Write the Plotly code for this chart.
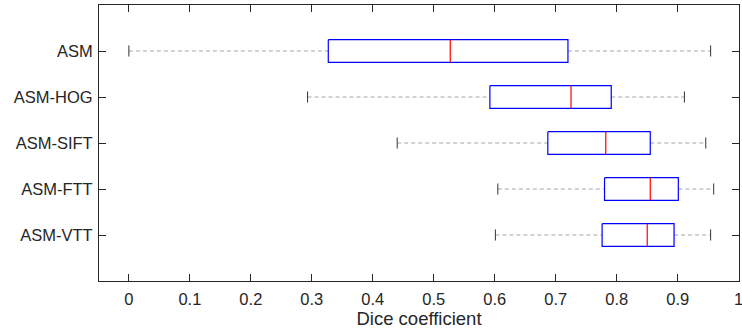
import plotly.graph_objects as go

methods = ["ASM", "ASM-HOG", "ASM-SIFT", "ASM-FTT", "ASM-VTT"]
lower_whisker = [0.000, 0.293, 0.440, 0.605, 0.601]
q1 = [0.327, 0.592, 0.687, 0.780, 0.776]
median = [0.527, 0.725, 0.782, 0.855, 0.850]
q3 = [0.720, 0.791, 0.855, 0.901, 0.894]
upper_whisker = [0.954, 0.911, 0.946, 0.959, 0.954]
x_ticks = [0, 0.1, 0.2, 0.3, 0.4, 0.5, 0.6, 0.7, 0.8, 0.9, 1]
x_tick_labels = ["0", "0.1", "0.2", "0.3", "0.4", "0.5", "0.6", "0.7", "0.8", "0.9", "1"]

BOX_HALF = 0.247
CAP_HALF = 0.12

wx, wy, cx, cy, bx, by, mx, my = [], [], [], [], [], [], [], []
for i, m in enumerate(methods):
    yc = i + 1
    wx += [lower_whisker[i], q1[i], None, q3[i], upper_whisker[i], None]
    wy += [yc, yc, None, yc, yc, None]
    cx += [lower_whisker[i], lower_whisker[i], None, upper_whisker[i], upper_whisker[i], None]
    cy += [yc - CAP_HALF, yc + CAP_HALF, None, yc - CAP_HALF, yc + CAP_HALF, None]
    bx += [q1[i], q3[i], q3[i], q1[i], q1[i], None]
    by += [yc - BOX_HALF, yc - BOX_HALF, yc + BOX_HALF, yc + BOX_HALF, yc - BOX_HALF, None]
    mx += [median[i], median[i], None]
    my += [yc - BOX_HALF, yc + BOX_HALF, None]

fig = go.Figure()
fig.add_trace(go.Scatter(x=wx, y=wy, mode="lines", hoverinfo="skip",
                         line=dict(color="#a6a6a6", width=1, dash="4px,3px")))
fig.add_trace(go.Scatter(x=cx, y=cy, mode="lines", hoverinfo="skip",
                         line=dict(color="#333333", width=1)))
fig.add_trace(go.Scatter(x=bx, y=by, mode="lines", hoverinfo="skip",
                         line=dict(color="#0000ff", width=1.2)))
fig.add_trace(go.Scatter(x=mx, y=my, mode="lines", hoverinfo="skip",
                         line=dict(color="#ff0000", width=1.2)))

axis_color = "#262626"
fig.update_layout(
    width=742, height=329,
    margin=dict(l=99, r=3, t=5, b=48),
    plot_bgcolor="white", paper_bgcolor="white",
    showlegend=False,
    font=dict(family="Liberation Sans, Arial, sans-serif", size=16.5, color=axis_color),
    xaxis=dict(
        range=[-0.049, 1.0005], tickvals=x_ticks, ticktext=x_tick_labels,
        ticks="inside", ticklen=7, tickcolor=axis_color, tickwidth=1,
        showline=True, linecolor=axis_color, linewidth=1, mirror="ticks",
        showgrid=False, zeroline=False, automargin=False,
        ticklabelstandoff=3, ticklabeloverflow="allow",
        title=dict(text="Dice coefficient", font=dict(size=18.5), standoff=6),
    ),
    yaxis=dict(
        range=[6, 0], tickvals=[1, 2, 3, 4, 5], ticktext=methods,
        ticks="inside", ticklen=7, tickcolor=axis_color, tickwidth=1,
        showline=True, linecolor=axis_color, linewidth=1, mirror="ticks",
        showgrid=False, zeroline=False, ticklabelstandoff=2, automargin=False,
    ),
)

fig.write_html(
    "out.html",
    config={"displayModeBar": False},
    post_script="document.body.style.margin='0';document.body.style.overflow='hidden';",
)
